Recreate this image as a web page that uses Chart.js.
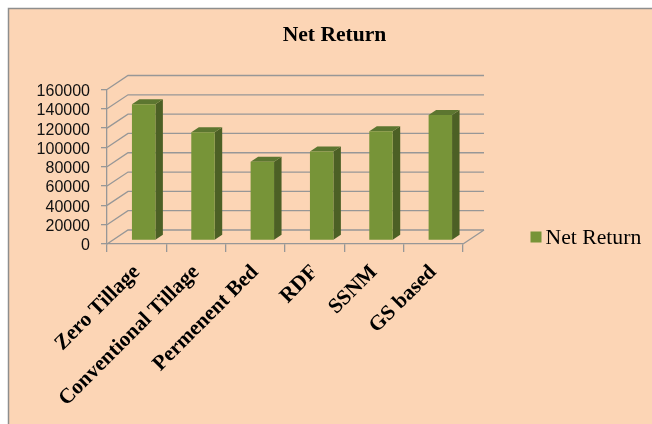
<!DOCTYPE html>
<html>
<head>
<meta charset="utf-8">
<script src="https://cdn.jsdelivr.net/npm/chart.js@4.4.1/dist/chart.umd.min.js"></script>
<style>
  html, body { margin: 0; padding: 0; background: #ffffff; }
  #wrap { position: absolute; left: 0; top: 0; width: 652px; height: 424px; }
</style>
</head>
<body>
<div id="wrap"><canvas id="c" width="652" height="424"></canvas></div>
<script>
// ---- data ----
const categories = ['Zero Tillage', 'Conventional Tillage', 'Permenent Bed', 'RDF', 'SSNM', 'GS based'];
const netReturn = [141000, 112000, 81500, 92000, 113000, 130000];
const seriesName = 'Net Return';
const chartTitle = 'Net Return';
const yMin = 0;
const yMax = 160000;
const yStep = 20000;

// ---- style ----
const PANEL = '#fcd5b5';
const FRAME = '#8e8e8e';
const GRID = '#979797';
const FRONT = '#779438';
const SIDE = '#4c6025';
const TOP = '#5c7630';
const SERIF = '"Liberation Serif", "Times New Roman", serif';
const SANS = '"Liberation Sans", Arial, sans-serif';

// 3-D look: offset of the back wall and of the bars inside the depth
const WALL_DX = 21, WALL_DY = -14;
const BAR_DX = 7, BAR_DY = -3.6;
const BAR_DEPTH_DX = 7.5, BAR_DEPTH_DY = -5;

// peach panel with a grey frame on its top and left edges
const panelPlugin = {
  id: 'panel',
  beforeDraw(chart) {
    const ctx = chart.ctx;
    ctx.save();
    ctx.fillStyle = '#ffffff';
    ctx.fillRect(0, 0, chart.width, chart.height);
    ctx.fillStyle = PANEL;
    ctx.fillRect(8, 8, chart.width - 8, chart.height - 8);
    ctx.strokeStyle = FRAME;
    ctx.lineWidth = 1.5;
    ctx.beginPath();
    ctx.moveTo(8.5, chart.height);
    ctx.lineTo(8.5, 8.5);
    ctx.lineTo(chart.width, 8.5);
    ctx.stroke();
    ctx.restore();
  }
};

// back wall, side wall and floor, then the depth faces of each bar
const depthPlugin = {
  id: 'depth',
  beforeDatasetsDraw(chart) {
    const ctx = chart.ctx;
    const xs = chart.scales.x, ys = chart.scales.y;
    const left = xs.left, right = xs.right, base = ys.getPixelForValue(yMin);
    ctx.save();
    ctx.strokeStyle = GRID;
    ctx.lineWidth = 1.3;
    ys.ticks.forEach(t => {
      const py = ys.getPixelForValue(t.value);
      ctx.beginPath();
      ctx.moveTo(left, py);
      ctx.lineTo(left + WALL_DX, py + WALL_DY);
      ctx.lineTo(right + WALL_DX, py + WALL_DY);
      ctx.stroke();
    });
    ctx.beginPath();
    ctx.moveTo(right, base);
    ctx.lineTo(right + WALL_DX, base + WALL_DY);
    ctx.stroke();
    ctx.restore();

    // bars sit part way into the depth; the front faces are drawn by the
    // library inside this translated context
    ctx.save();
    ctx.translate(BAR_DX, BAR_DY);
    const meta = chart.getDatasetMeta(0);
    meta.data.forEach(bar => {
      const p = bar.getProps(['x', 'y', 'base', 'width'], true);
      const x1 = p.x - p.width / 2, x2 = p.x + p.width / 2;
      const top = p.y, bot = p.base;
      ctx.fillStyle = SIDE;
      ctx.beginPath();
      ctx.moveTo(x2, top);
      ctx.lineTo(x2 + BAR_DEPTH_DX, top + BAR_DEPTH_DY);
      ctx.lineTo(x2 + BAR_DEPTH_DX, bot + BAR_DEPTH_DY);
      ctx.lineTo(x2, bot);
      ctx.closePath();
      ctx.fill();
      ctx.fillStyle = TOP;
      ctx.beginPath();
      ctx.moveTo(x1, top);
      ctx.lineTo(x1 + BAR_DEPTH_DX, top + BAR_DEPTH_DY);
      ctx.lineTo(x2 + BAR_DEPTH_DX, top + BAR_DEPTH_DY);
      ctx.lineTo(x2, top);
      ctx.closePath();
      ctx.fill();
    });
  },
  afterDatasetsDraw(chart) {
    chart.ctx.restore();
  }
};

// legend entry on the right
const legendPlugin = {
  id: 'sideLegend',
  afterDraw(chart) {
    const ctx = chart.ctx;
    const ds = chart.data.datasets[0];
    ctx.save();
    ctx.fillStyle = ds.backgroundColor;
    ctx.fillRect(530.5, 231.5, 11, 11);
    ctx.fillStyle = '#000000';
    ctx.font = '21.7px ' + SERIF;
    ctx.textBaseline = 'alphabetic';
    ctx.textAlign = 'left';
    ctx.fillText(ds.label, 545.5, 244);
    ctx.restore();
  }
};

new Chart(document.getElementById('c'), {
  type: 'bar',
  data: {
    labels: categories,
    datasets: [{
      label: seriesName,
      data: netReturn,
      backgroundColor: FRONT,
      borderWidth: 0,
      categoryPercentage: 1,
      barPercentage: 0.395,
      clip: false
    }]
  },
  options: {
    responsive: false,
    animation: false,
    devicePixelRatio: 1,
    layout: { padding: { left: 17, top: 8, right: 0, bottom: 0 } },
    plugins: {
      legend: { display: false },
      tooltip: { enabled: false },
      title: {
        display: true,
        text: chartTitle,
        color: '#000000',
        font: { family: SERIF, size: 21.6, weight: 'bold' },
        padding: { top: 14.5, bottom: 41.1 }
      }
    },
    scales: {
      x: {
        grid: { display: true, drawOnChartArea: false, drawTicks: true, tickLength: 8, color: GRID, lineWidth: 1.3, offset: true },
        border: { display: true, color: GRID, width: 1.3 },
        ticks: {
          autoSkip: false, minRotation: 45, maxRotation: 45, padding: 8,
          color: '#000000',
          font: { family: SERIF, size: 21.2, weight: 'bold' }
        },
        afterFit(s) { s.height = 180; }
      },
      y: {
        min: yMin, max: yMax,
        grid: { display: true, drawOnChartArea: false, drawTicks: true, tickLength: 6, color: GRID, lineWidth: 1.3 },
        border: { display: true, color: GRID, width: 1.3 },
        ticks: {
          stepSize: yStep, padding: 11, color: '#111111', autoSkip: false,
          labelOffset: 2,
          font: { family: SANS, size: 16 },
          callback: v => String(v)
        },
        afterFit(s) { s.width = 90; }
      },
      legendSpace: {
        type: 'linear', position: 'right', display: true,
        grid: { display: false }, border: { display: false }, ticks: { display: false },
        afterFit(s) { s.width = 189; }
      }
    }
  },
  plugins: [panelPlugin, depthPlugin, legendPlugin]
});
</script>
</body>
</html>
